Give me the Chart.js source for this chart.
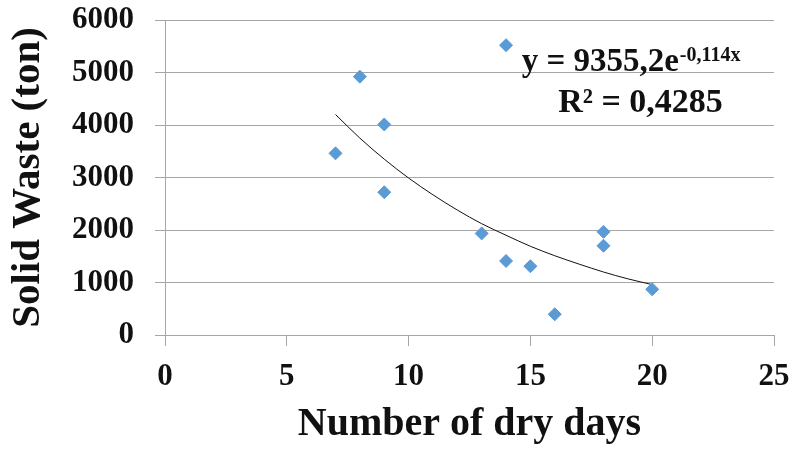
<!DOCTYPE html>
<html>
<head>
<meta charset="utf-8">
<script src="https://cdn.jsdelivr.net/npm/chart.js@4.4.1/dist/chart.umd.min.js"></script>
<style>
  html,body{margin:0;padding:0;background:#fff;}
  canvas{display:block;}
</style>
</head>
<body>
<canvas id="myChart" width="792" height="449"></canvas>
<script>
'use strict';

// dry days vs solid waste
let dryDays=[7,8,9,9,13,14,14,15,16,18,18,20];
let solidWaste=[3460,4920,4010,2720,1935,5520,1410,1310,395,1965,1700,870];

// exponential trendline as drawn in the picture
let trendDays=[7,8,9,10,11,12,13,14,15,16,17,18,19,20];
let trendWaste=[4200,3750,3350,2990,2670,2380,2120,1900,1690,1510,1350,1200,1070,960];

let xTicks=[0,5,10,15,20,25];
let yTicks=[0,1000,2000,3000,4000,5000,6000];

let equationText='y = 9355,2e';
let equationPower='-0,114x';
let rSquaredText='R\u00b2 = 0,4285';

const serif='"Liberation Serif", "DejaVu Serif", serif';
const gridColor='#a6a6a6';

let points=[];
for(let i=0;i<dryDays.length;i++){
  points.push({x:dryDays[i],y:solidWaste[i]});
}
let trend=[];
for(let i=0;i<trendDays.length;i++){
  trend.push({x:trendDays[i],y:trendWaste[i]});
}

// draws the trendline equation like the excel label
const equationLabel={
  id:'equationLabel',
  afterDatasetsDraw(chart){
    const ctx=chart.ctx;
    const xs=chart.scales.x;
    const ys=chart.scales.y;
    ctx.save();
    ctx.fillStyle='#111';
    ctx.textBaseline='alphabetic';

    ctx.font='bold 33px '+serif;
    ctx.textAlign='left';
    let x1=xs.getPixelForValue(14.64);
    let y1=ys.getPixelForValue(5030);
    ctx.fillText(equationText,x1,y1);
    let w=ctx.measureText(equationText).width;
    ctx.font='bold 20px '+serif;
    ctx.fillText(equationPower,x1+w+1,y1-10);

    ctx.font='bold 34px '+serif;
    ctx.textAlign='center';
    ctx.fillText(rSquaredText,xs.getPixelForValue(19.52),ys.getPixelForValue(4253));
    ctx.restore();
  }
};

let ctx=document.getElementById('myChart').getContext('2d');
let myChart=new Chart(ctx,{
  type:'scatter',
  data:{
    datasets:[
      {
        label:'Solid waste',
        data:points,
        pointStyle:'rectRot',
        pointRadius:6.5,
        backgroundColor:'#5b9bd5',
        borderColor:'#5b9bd5',
        borderWidth:1,
        order:1
      },
      {
        label:'Trend',
        type:'line',
        data:trend,
        showLine:true,
        pointRadius:0,
        borderColor:'#111',
        borderWidth:1,
        tension:0.4,
        cubicInterpolationMode:'monotone',
        fill:false,
        order:2
      }
    ]
  },
  options:{
    responsive:false,
    animation:false,
    devicePixelRatio:1,
    layout:{padding:0},
    plugins:{
      legend:{display:false},
      tooltip:{enabled:false}
    },
    scales:{
      x:{
        type:'linear',
        min:0,
        max:25,
        afterBuildTicks(scale){
          scale.ticks=xTicks.map(v=>({value:v}));
        },
        afterFit(scale){
          scale.height=114;
          scale.paddingLeft=0;
          scale.paddingRight=18;
        },
        grid:{
          drawOnChartArea:false,
          drawTicks:true,
          tickLength:11,
          color:gridColor
        },
        border:{display:false},
        ticks:{
          color:'#111',
          padding:12,
          callback:v=>String(v),
          font:{family:serif,size:31,weight:'bold'}
        },
        title:{
          display:true,
          text:'Number of dry days',
          color:'#111',
          padding:{top:0,bottom:0},
          font:{family:serif,size:40,weight:'bold'}
        }
      },
      y:{
        type:'linear',
        min:0,
        max:6000,
        afterBuildTicks(scale){
          scale.ticks=yTicks.map(v=>({value:v}));
        },
        afterFit(scale){
          scale.width=165;
          scale.paddingTop=20;
          scale.paddingBottom=0;
        },
        grid:{
          color:gridColor,
          tickLength:10
        },
        border:{display:true,color:gridColor},
        ticks:{
          color:'#111',
          padding:21,
          callback:v=>String(v),
          font:{family:serif,size:31,weight:'bold'}
        },
        title:{
          display:true,
          text:'Solid Waste (ton)',
          color:'#111',
          padding:{top:4,bottom:0},
          font:{family:serif,size:41,weight:'bold'}
        }
      }
    }
  },
  plugins:[equationLabel]
});
</script>
</body>
</html>
